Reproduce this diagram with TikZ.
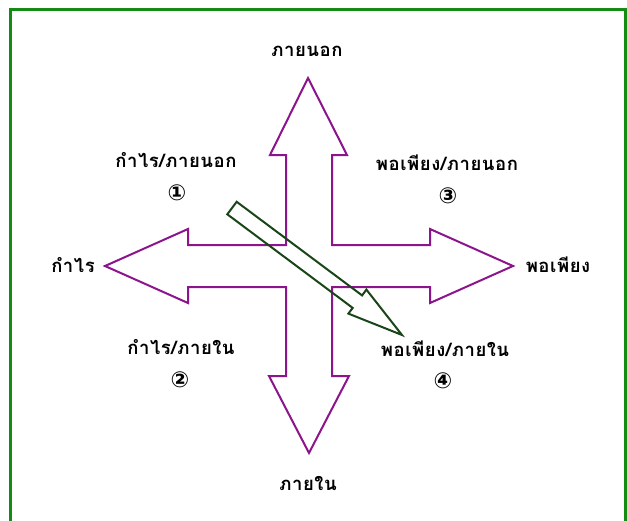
\documentclass[tikz,border=0pt]{standalone}
\usepackage{fontspec}
\newfontfamily\thaifont[Script=Thai,LetterSpace=3]{Loma}
\newfontfamily\symfont{DejaVu Sans}
\definecolor{framegreen}{RGB}{20,140,20}
\definecolor{crosspurple}{RGB}{140,20,140}
\definecolor{darkarrow}{RGB}{25,70,25}
\begin{document}
\begin{tikzpicture}[x=1pt,y=-1pt,
  lbl/.style={font=\thaifont\bfseries\fontsize{18.5}{20}\selectfont, inner sep=0pt, anchor=center},
  num/.style={font=\symfont\bfseries\fontsize{22}{24}\selectfont, inner sep=0pt, anchor=center}]
\useasboundingbox (0,0) rectangle (627,520);
\fill[white] (0,0) rectangle (627,520);
% frame
\draw[framegreen, line width=3pt] (10.5,9) rectangle (625.5,560);
% cross of four arrows
\draw[crosspurple, line width=2pt, line join=miter]
  (308,78) -- (347,155) -- (332,155) -- (332,245) -- (430,245) -- (430,229)
  -- (513,266) -- (430,303) -- (430,287) -- (332,287) -- (332,376)
  -- (349,376) -- (309,453) -- (269,376) -- (286,376) -- (286,287)
  -- (188,287) -- (188,303) -- (105,266) -- (188,229) -- (188,245)
  -- (286,245) -- (286,155) -- (270,155) -- cycle;
% diagonal arrow
\draw[darkarrow, line width=2pt, line join=miter]
  (236.7,201.8) -- (362.1,295.4) -- (366.4,289.6) -- (402,335)
  -- (348.4,313.6) -- (352.7,307.9) -- (227.3,214.3) -- cycle;
% labels
\node[lbl] (top) at (307,51) {ภายนอก};
\node[lbl] (bottom) at (308,483) {ภายใน};
\node[lbl] (left) at (73,265) {กำไร};
\node[lbl] (right) at (558,265) {พอเพียง};
\node[lbl] (q1) at (176,160) {กำไร/ภายนอก};
\node[num] (n1) at (177,193) {①};
\node[lbl] (q3) at (447,163) {พอเพียง/ภายนอก};
\node[num] (n3) at (448,196) {③};
\node[lbl] (q2) at (181,347) {กำไร/ภายใน};
\node[num] (n2) at (180,380) {②};
\node[lbl] (q4) at (445,349) {พอเพียง/ภายใน};
\node[num] (n4) at (443,381) {④};
\end{tikzpicture}
\end{document}
